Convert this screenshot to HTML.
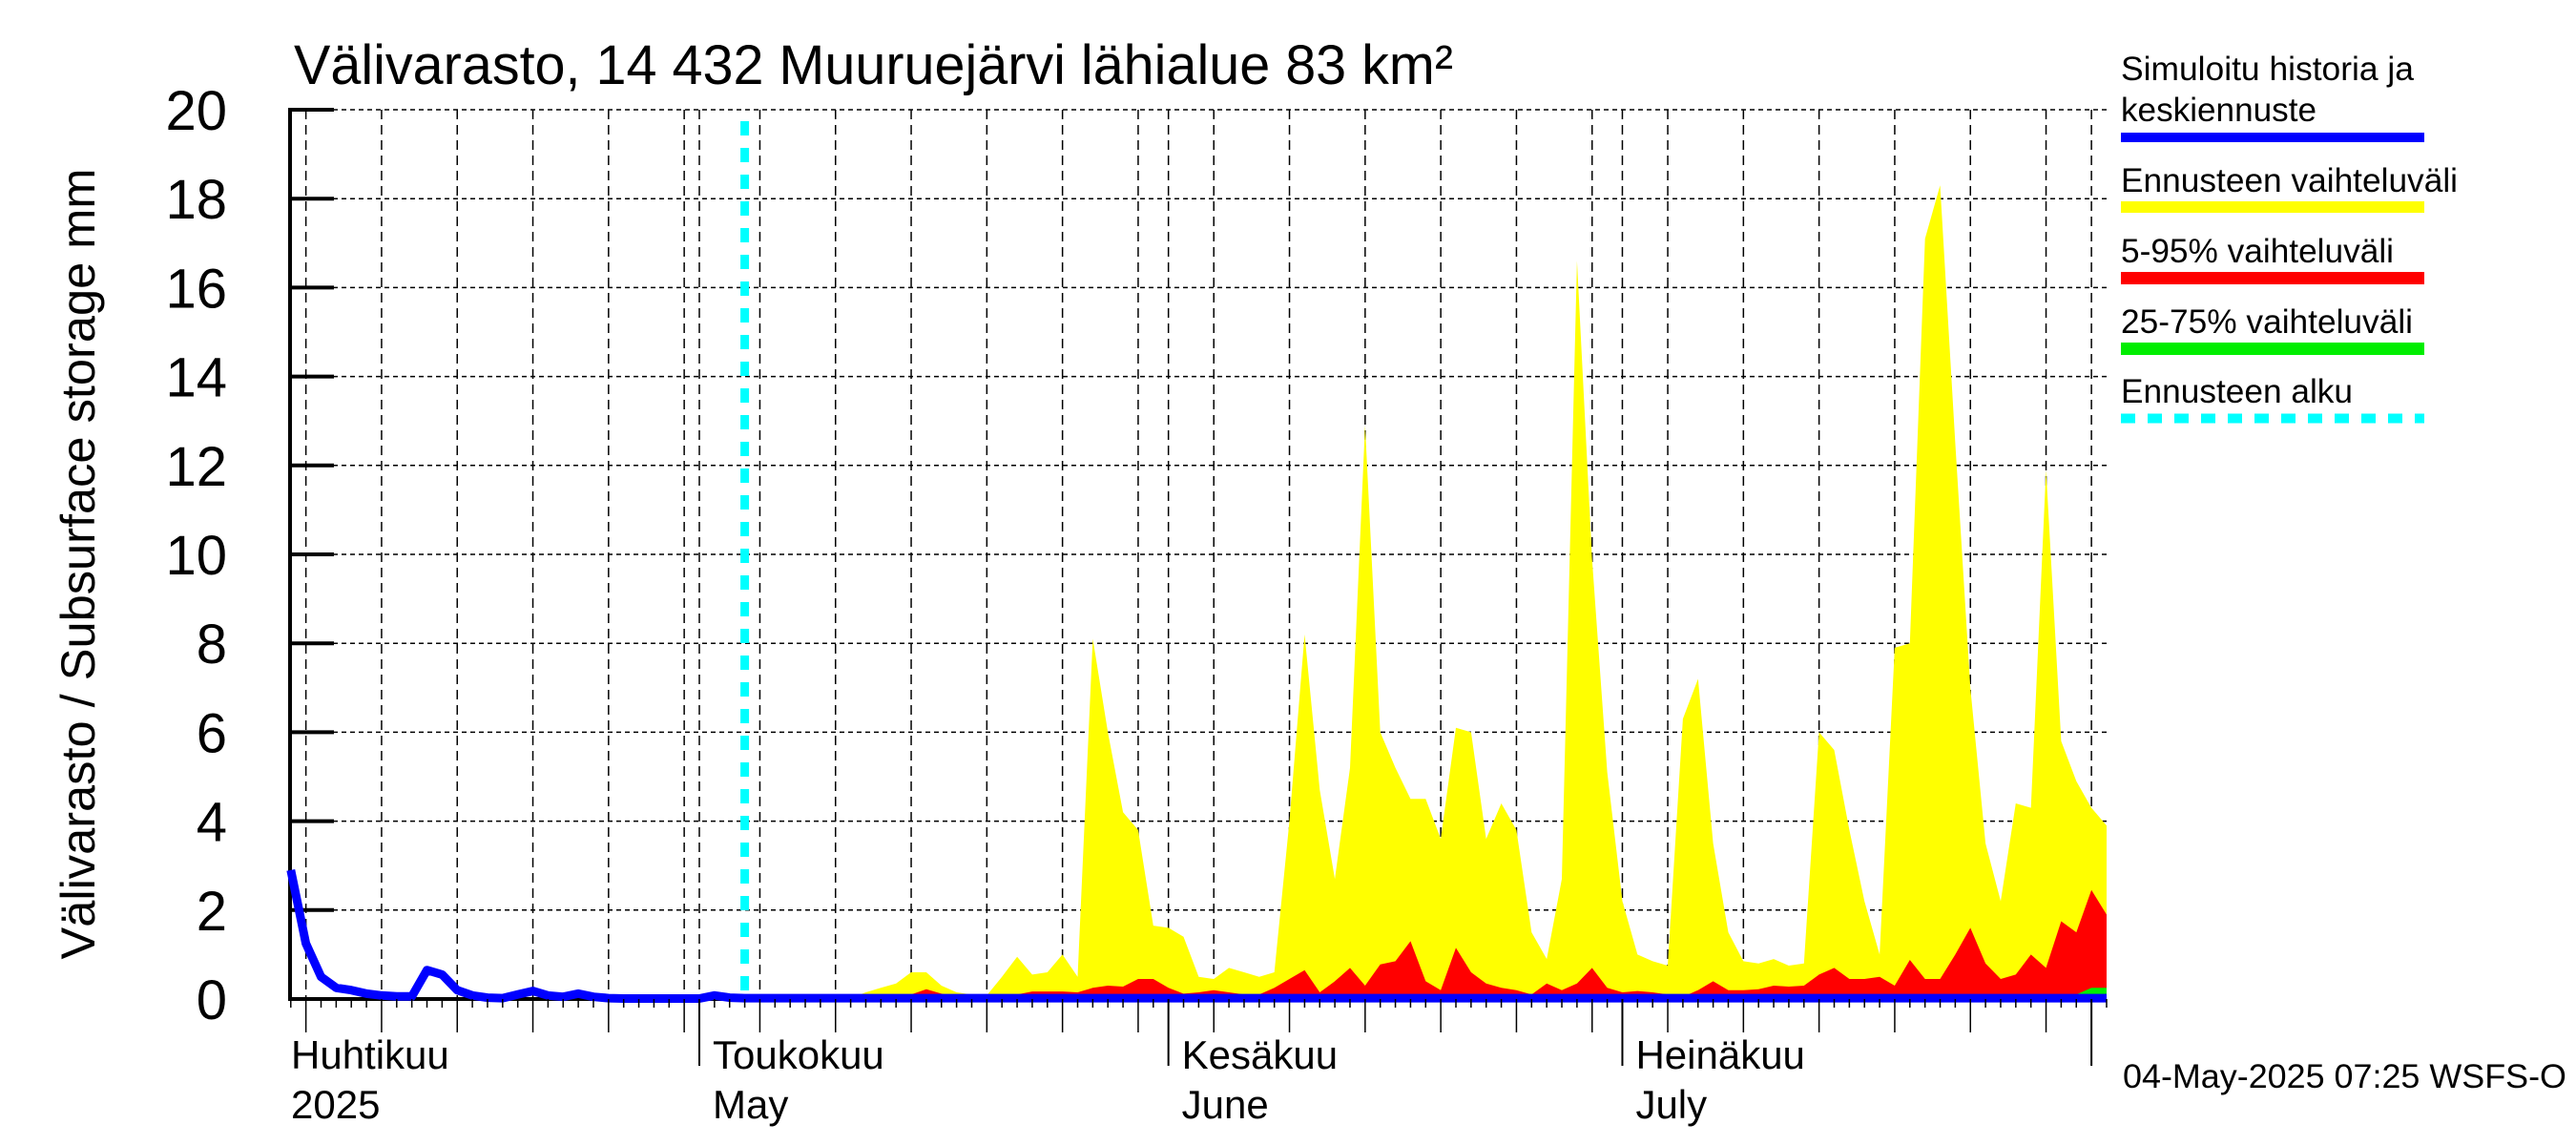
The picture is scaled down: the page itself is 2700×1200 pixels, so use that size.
<!DOCTYPE html>
<html><head><meta charset="utf-8"><style>
html,body{margin:0;padding:0;background:#fff;}
svg{display:block;font-family:"Liberation Sans",sans-serif;}
</style></head><body>
<svg id="chart" width="2700" height="1200" viewBox="0 0 2700 1200" xmlns="http://www.w3.org/2000/svg">
<g id="grid"></g>
<g id="bands"></g>
<g id="axes"></g>
<text x="308" y="88" font-size="58" textLength="1215" lengthAdjust="spacingAndGlyphs">Välivarasto, 14 432 Muuruejärvi lähialue 83 km²</text>
<text transform="translate(99,591) rotate(-90)" text-anchor="middle" font-size="50" textLength="829" lengthAdjust="spacingAndGlyphs">Välivarasto / Subsurface storage  mm</text>
<g>
<text x="2223" y="84" font-size="35" textLength="307" lengthAdjust="spacingAndGlyphs">Simuloitu historia ja</text>
<text x="2223" y="127" font-size="35" textLength="205" lengthAdjust="spacingAndGlyphs">keskiennuste</text>
<rect x="2223" y="139" width="318" height="10" fill="#0000ff"/>
<text x="2223" y="201" font-size="35" textLength="353" lengthAdjust="spacingAndGlyphs">Ennusteen vaihteluväli</text>
<rect x="2223" y="211" width="318" height="12" fill="#ffff00"/>
<text x="2223" y="275" font-size="35" textLength="286" lengthAdjust="spacingAndGlyphs">5-95% vaihteluväli</text>
<rect x="2223" y="285" width="318" height="13" fill="#ff0000"/>
<text x="2223" y="349" font-size="35" textLength="306" lengthAdjust="spacingAndGlyphs">25-75% vaihteluväli</text>
<rect x="2223" y="359" width="318" height="13" fill="#00ee00"/>
<text x="2223" y="422" font-size="35" textLength="243" lengthAdjust="spacingAndGlyphs">Ennusteen alku</text>
<line x1="2223" y1="438.5" x2="2541" y2="438.5" stroke="#00ffff" stroke-width="10" stroke-dasharray="15 13"/>
</g>
<text x="2225" y="1140" font-size="35" textLength="465" lengthAdjust="spacingAndGlyphs">04-May-2025 07:25 WSFS-O</text>
</svg>
<script>
// day index: 0 = 1 Apr 2025
const histDays = [3,4,5,6,7,8,9,10,11,12,13,14,15,16,17,18,19,20,21,22,23,24,25,26,27,28,29,30,31,32,33];
const histValues = [2.9,1.25,0.5,0.25,0.2,0.12,0.08,0.06,0.06,0.65,0.55,0.2,0.08,0.03,0.02,0.1,0.18,0.08,0.05,0.12,0.05,0.02,0.01,0.01,0.01,0.01,0.01,0.01,0.08,0.03,0.02];
const fcDays = [33,34,35,36,37,38,39,40,41,42,43,44,45,46,47,48,49,50,51,52,53,54,55,56,57,58,59,60,61,62,63,64,65,66,67,68,69,70,71,72,73,74,75,76,77,78,79,80,81,82,83,84,85,86,87,88,89,90,91,92,93,94,95,96,97,98,99,100,101,102,103,104,105,106,107,108,109,110,111,112,113,114,115,116,117,118,119,120,121,122,123];
const rangeMax = [0.02,0.02,0.02,0.02,0.02,0.02,0.02,0.02,0.15,0.25,0.35,0.6,0.6,0.3,0.15,0.1,0.08,0.5,0.95,0.55,0.6,1.0,0.5,8.1,6.0,4.2,3.8,1.65,1.6,1.4,0.5,0.45,0.7,0.6,0.5,0.6,4.0,8.2,4.7,2.7,5.2,12.9,6.0,5.2,4.5,4.5,3.6,6.1,6.0,3.6,4.4,3.8,1.5,0.9,2.7,16.6,9.9,5.1,2.2,1.0,0.85,0.75,6.3,7.2,3.5,1.5,0.85,0.8,0.9,0.75,0.8,6.0,5.6,3.8,2.2,1.0,7.9,8.0,17.1,18.3,12.5,7.0,3.5,2.2,4.4,4.3,11.9,5.8,4.9,4.3,3.9];
const p95 = [0.02,0.02,0.02,0.02,0.02,0.02,0.02,0.02,0.05,0.08,0.1,0.1,0.22,0.12,0.05,0.05,0.05,0.05,0.1,0.17,0.17,0.17,0.15,0.25,0.3,0.28,0.45,0.45,0.25,0.12,0.15,0.2,0.15,0.1,0.1,0.25,0.45,0.65,0.15,0.4,0.7,0.3,0.78,0.85,1.3,0.4,0.2,1.15,0.6,0.35,0.25,0.2,0.1,0.35,0.2,0.35,0.7,0.25,0.15,0.18,0.15,0.1,0.05,0.2,0.4,0.2,0.2,0.22,0.3,0.28,0.3,0.55,0.7,0.45,0.45,0.5,0.3,0.88,0.45,0.45,1.0,1.6,0.8,0.45,0.55,1.0,0.7,1.75,1.5,2.45,1.9];
const p75 = [0.02,0.02,0.02,0.02,0.02,0.02,0.02,0.02,0.03,0.03,0.03,0.03,0.03,0.03,0.03,0.03,0.03,0.03,0.03,0.03,0.03,0.03,0.03,0.03,0.03,0.03,0.03,0.03,0.03,0.03,0.03,0.03,0.03,0.03,0.03,0.03,0.03,0.03,0.03,0.03,0.03,0.03,0.03,0.03,0.03,0.03,0.03,0.03,0.03,0.03,0.03,0.03,0.03,0.03,0.03,0.03,0.03,0.03,0.03,0.03,0.03,0.03,0.03,0.03,0.03,0.03,0.03,0.03,0.03,0.03,0.03,0.03,0.03,0.03,0.03,0.03,0.03,0.03,0.03,0.03,0.03,0.03,0.03,0.03,0.03,0.03,0.03,0.03,0.1,0.25,0.25];
const fcMean = fcDays.map(() => 0.02);
const yTicks = [0,2,4,6,8,10,12,14,16,18,20];
const monthDays = [30,61,91,122];
const monthLabels = [["Huhtikuu","2025"],["Toukokuu","May"],["Kesäkuu","June"],["Heinäkuu","July"]];
const monthLabelDays = [null,30,61,91];
const forecastStartDay = 33;

const NS = "http://www.w3.org/2000/svg";
const X0 = 304, X1 = 2208, Y0 = 1047;
function xs(d){ return 733 + (d - 30) * 15.86; }
function ys(v){ return Y0 - v * 46.6; }
function mk(tag, attrs, parent){
  const e = document.createElementNS(NS, tag);
  for (const k in attrs) e.setAttribute(k, attrs[k]);
  parent.appendChild(e);
  return e;
}
const grid = document.getElementById('grid');
const bands = document.getElementById('bands');
const axes = document.getElementById('axes');

// horizontal grid
yTicks.forEach(v => {
  if (v === 0) return;
  const l = mk('line', {x1:X0, x2:X1, y1:ys(v), y2:ys(v), stroke:'#000', 'stroke-width':1.5, 'stroke-dasharray':'5 4'}, grid);
  
  
});
// vertical grid every 5 days + month boundaries
const vDays = [];
for (let d = 4; d <= 123; d += 5) vDays.push(d);
monthDays.forEach(d => vDays.push(d));
vDays.forEach(d => {
  const l = mk('line', {x1:xs(d), x2:xs(d), y1:ys(20), y2:Y0, stroke:'#000', 'stroke-width':1.5, 'stroke-dasharray':'10 6'}, grid);
  
  
});

function area(vals, color, name){
  let d = 'M' + xs(fcDays[0]) + ' ' + Y0;
  fcDays.forEach((day, i) => { d += ' L' + xs(day).toFixed(1) + ' ' + ys(vals[i]).toFixed(1); });
  d += ' L' + xs(fcDays[fcDays.length-1]) + ' ' + Y0 + ' Z';
  const p = mk('path', {d:d, fill:color}, bands);
  
  
}
area(rangeMax, '#ffff00', 'forecast-range-area');
area(p95, '#ff0000', 'band-5-95');
area(p75, '#00ee00', 'band-25-75');

// forecast start line
const fl = mk('line', {x1:xs(forecastStartDay), x2:xs(forecastStartDay), y1:127, y2:Y0, stroke:'#00ffff', 'stroke-width':9, 'stroke-dasharray':'15 13'}, bands);



// axes
const ya = mk('line', {x1:X0, x2:X0, y1:ys(20)-2, y2:Y0+2, stroke:'#000', 'stroke-width':4}, axes);


const xa = mk('line', {x1:X0, x2:X1, y1:Y0, y2:Y0, stroke:'#000', 'stroke-width':4}, axes);


yTicks.forEach(v => {
  const t = mk('line', {x1:X0, x2:X0+46, y1:ys(v), y2:ys(v), stroke:'#000', 'stroke-width':4}, axes);
  
  
  const tx = mk('text', {x:238, y:ys(v)+21, 'text-anchor':'end', 'font-size':58}, axes);
  tx.textContent = String(v);
  
  
});
// blue mean line (history + forecast mean)
let bd = '';
histDays.forEach((day, i) => { bd += (i ? ' L' : 'M') + xs(day).toFixed(1) + ' ' + ys(histValues[i]).toFixed(1); });
fcDays.forEach((day, i) => { bd += ' L' + xs(day).toFixed(1) + ' ' + ys(fcMean[i]).toFixed(1); });
const bl = mk('path', {d:bd, fill:'none', stroke:'#0000ff', 'stroke-width':9, 'stroke-linejoin':'round'}, axes);



// x ticks
for (let d = 3; d <= 123; d++) {
  const isMonth = monthDays.indexOf(d) >= 0;
  const isFive = (d - 4) % 5 === 0;
  const len = isMonth ? 70 : (isFive ? 35 : 9);
  if (xs(d) < X0) continue;
  const t = mk('line', {x1:xs(d), x2:xs(d), y1:Y0, y2:Y0+len, stroke:'#000', 'stroke-width':isMonth ? 2 : 1.5}, axes);
  
  
}
monthLabels.forEach((lab, i) => {
  const x = monthLabelDays[i] === null ? 305 : xs(monthLabelDays[i]) + 14;
  const t1 = mk('text', {x:x, y:1120, 'font-size':42}, axes);
  t1.textContent = lab[0];
  
  
  const t2 = mk('text', {x:x, y:1172, 'font-size':42}, axes);
  t2.textContent = lab[1];
  
  
});
</script>
</body></html>
